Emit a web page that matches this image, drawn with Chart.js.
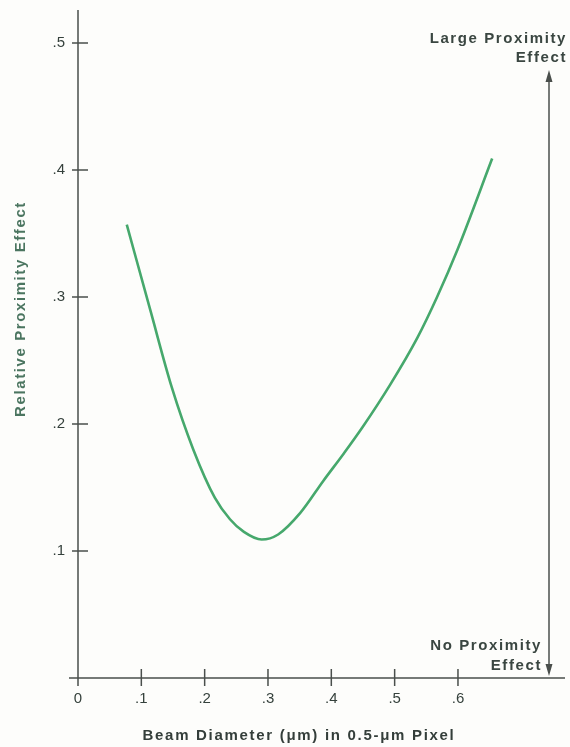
<!DOCTYPE html>
<html>
<head>
<meta charset="utf-8">
<script src="https://cdn.jsdelivr.net/npm/chart.js@4/dist/chart.umd.min.js"></script>
<style>
  html, body { margin: 0; padding: 0; background: #fdfdfb; }
  #wrap { position: relative; width: 570px; height: 747px; }
</style>
</head>
<body>
<div id="wrap"><canvas id="chart"></canvas></div>
<script>
// beam diameter (um)
const beamDiameter = [0.077, 0.114, 0.148, 0.182, 0.216, 0.24, 0.262, 0.29, 0.316, 0.351, 0.387, 0.42, 0.45, 0.493, 0.536, 0.567, 0.599, 0.654];
// relative proximity effect at those points
const proximityEffect = [0.357, 0.29, 0.229, 0.18, 0.142, 0.125, 0.115, 0.109, 0.113, 0.13, 0.155, 0.177, 0.198, 0.231, 0.268, 0.3, 0.337, 0.409];

const xTicks = [0, 0.1, 0.2, 0.3, 0.4, 0.5, 0.6];
const yTicks = [0.1, 0.2, 0.3, 0.4, 0.5];

const xTitle = 'Beam Diameter (\u03bcm) in 0.5-\u03bcm Pixel';
const yTitle = 'Relative Proximity Effect';
const topNote = ['Large Proximity', 'Effect'];
const bottomNote = ['No Proximity', 'Effect'];

const AXIS_COLOR = '#4a4f4c';
const TEXT_COLOR = '#35413c';
const FONT = '"Liberation Sans", Arial, Helvetica, sans-serif';

const fmt = (v) => (v === 0 ? '0' : v.toFixed(1).replace(/^0/, ''));

const axesPlugin = {
  id: 'axes',
  beforeDatasetsDraw(chart) {
    const {ctx, chartArea, scales: {x, y}} = chart;
    const x0 = x.getPixelForValue(0);
    const y0 = y.getPixelForValue(0);
    ctx.save();
    ctx.strokeStyle = AXIS_COLOR;
    ctx.lineWidth = 1.5;
    ctx.beginPath();
    // axes
    ctx.moveTo(x0 - 9, y0);
    ctx.lineTo(chartArea.right, y0);
    ctx.moveTo(x0, chartArea.top);
    ctx.lineTo(x0, y0 + 8);
    // tick marks crossing the axes
    xTicks.forEach((v) => {
      const px = x.getPixelForValue(v);
      ctx.moveTo(px, y0 - 9);
      ctx.lineTo(px, y0 + 8);
    });
    yTicks.forEach((v) => {
      const py = y.getPixelForValue(v);
      ctx.moveTo(x0 - 6, py);
      ctx.lineTo(x0 + 10, py);
    });
    ctx.stroke();

    // double arrow on the right
    const ax = chartArea.right - 16;
    const top = 70;
    const bottom = y0 - 2;
    ctx.beginPath();
    ctx.moveTo(ax, top + 8);
    ctx.lineTo(ax, bottom - 8);
    ctx.stroke();
    ctx.fillStyle = AXIS_COLOR;
    ctx.beginPath();
    ctx.moveTo(ax, top);
    ctx.lineTo(ax - 3.5, top + 12);
    ctx.lineTo(ax + 3.5, top + 12);
    ctx.closePath();
    ctx.moveTo(ax, bottom);
    ctx.lineTo(ax - 3.5, bottom - 12);
    ctx.lineTo(ax + 3.5, bottom - 12);
    ctx.closePath();
    ctx.fill();
    ctx.restore();
  },
  afterDraw(chart) {
    const {ctx, chartArea} = chart;
    ctx.save();
    ctx.textBaseline = 'alphabetic';
    ctx.font = `bold 15px ${FONT}`;

    // notes at the arrow ends
    ctx.fillStyle = '#3a4641';
    ctx.textAlign = 'right';
    ctx.letterSpacing = '1.6px';
    ctx.fillText(topNote[0], chartArea.right + 2, 43);
    ctx.fillText(topNote[1], chartArea.right + 2, 62);
    ctx.fillText(bottomNote[0], chartArea.right - 23, 650);
    ctx.fillText(bottomNote[1], chartArea.right - 23, 670);

    // x axis title
    ctx.letterSpacing = '1.7px';
    ctx.fillStyle = '#343e3a';
    ctx.textAlign = 'center';
    ctx.fillText(xTitle, 299, 740);

    // y axis title
    ctx.letterSpacing = '1.6px';
    ctx.fillStyle = '#4b7560';
    ctx.translate(25, 309);
    ctx.rotate(-Math.PI / 2);
    ctx.fillText(yTitle, 0, 0);
    ctx.restore();
  }
};

new Chart(document.getElementById('chart'), {
  type: 'scatter',
  data: {
    datasets: [{
      data: beamDiameter.map((v, i) => ({x: v, y: proximityEffect[i]})),
      showLine: true,
      borderColor: '#46a86c',
      borderWidth: 2.6,
      pointRadius: 0,
      cubicInterpolationMode: 'monotone',
      fill: false
    }]
  },
  options: {
    responsive: true,
    maintainAspectRatio: false,
    animation: false,
    layout: {padding: {top: 10, right: 5, left: 0, bottom: 0}},
    plugins: {legend: {display: false}, tooltip: {enabled: false}},
    scales: {
      x: {
        type: 'linear',
        min: 0,
        max: 0.769,
        afterFit: (s) => { s.height = 69; s.paddingLeft = 0; s.paddingRight = 0; },
        afterBuildTicks: (s) => { s.ticks = xTicks.map((v) => ({value: v})); },
        grid: {display: false, drawTicks: false},
        border: {display: false},
        ticks: {
          padding: 12,
          maxRotation: 0,
          autoSkip: false,
          color: TEXT_COLOR,
          font: {family: FONT, size: 15},
          callback: (v) => fmt(v)
        }
      },
      y: {
        type: 'linear',
        min: 0,
        max: 0.526,
        afterFit: (s) => { s.width = 78; s.paddingTop = 0; s.paddingBottom = 0; },
        afterBuildTicks: (s) => { s.ticks = yTicks.map((v) => ({value: v})); },
        grid: {display: false, drawTicks: false},
        border: {display: false},
        ticks: {
          padding: 13,
          autoSkip: false,
          color: TEXT_COLOR,
          font: {family: FONT, size: 15},
          callback: (v) => fmt(v)
        }
      }
    }
  },
  plugins: [axesPlugin]
});
</script>
</body>
</html>
